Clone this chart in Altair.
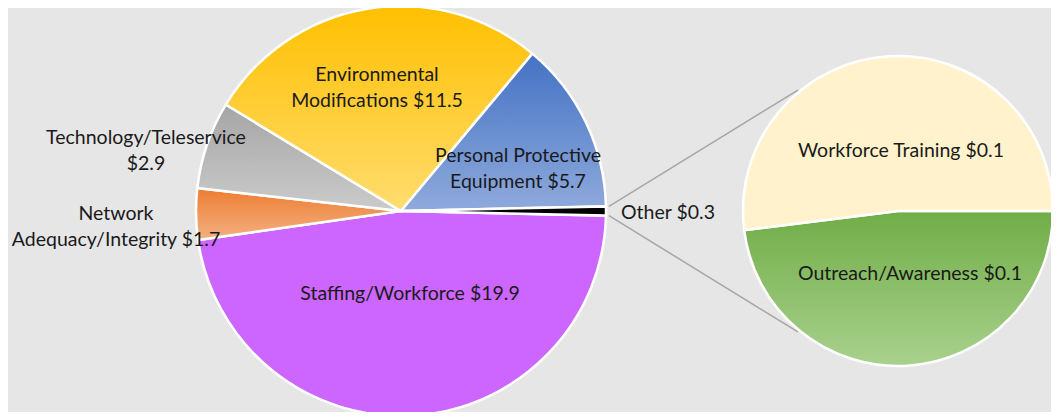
import math
import altair as alt
import pandas as pd

# ---- data ----
main_cats = ["Staffing/Workforce", "Network Adequacy/Integrity", "Technology/Teleservice",
             "Environmental Modifications", "Personal Protective Equipment", "Other"]
main_vals = [19.9, 1.7, 2.9, 11.5, 5.7, 0.3]
other_cats = ["Outreach/Awareness", "Workforce Training"]
other_vals = [0.134, 0.145]

# ---- styling / layout ----
wrapped = {
    "Network Adequacy/Integrity": "Network\nAdequacy/Integrity",
    "Environmental Modifications": "Environmental\nModifications",
    "Personal Protective Equipment": "Personal Protective\nEquipment",
}
sep = {"Technology/Teleservice": "\n"}


def grad(c1, c2):
    return alt.LinearGradient(
        gradient="linear",
        stops=[alt.GradientStop(color=c1, offset=0), alt.GradientStop(color=c2, offset=1)],
        x1=0, x2=0, y1=0, y2=1,
    )


fills = {
    "Staffing/Workforce": "#CC66FF",
    "Network Adequacy/Integrity": grad("#ED7D31", "#F4B183"),
    "Technology/Teleservice": grad("#A5A5A5", "#CBCBCB"),
    "Environmental Modifications": grad("#FFC000", "#FFDC6E"),
    "Personal Protective Equipment": grad("#4472C4", "#8FAADC"),
    "Other": "#000000",
    "Outreach/Awareness": grad("#70AD47", "#A9D18E"),
    "Workforce Training": "#FFF2CC",
}

MAIN_C = (393, 203)
MAIN_R = 205
SEC_C = (890, 203)
SEC_R = 155

label_pos = {
    "Staffing/Workforce": (402, 286, "center"),
    "Network Adequacy/Integrity": (108, 206, "center"),
    "Technology/Teleservice": (138, 129.5, "center"),
    "Environmental Modifications": (369, 67, "center"),
    "Personal Protective Equipment": (510, 147.5, "center"),
    "Other": (613, 205, "left"),
    "Outreach/Awareness": (902, 266, "center"),
    "Workforce Training": (893, 143, "center"),
}

FONT = "Lato"
FSIZE = 19.5
TXT = "#1a1a1a"


def make_df(cats, vals):
    return pd.DataFrame({
        "cat": cats,
        "value": vals,
        "order": list(range(len(cats))),
        "label": [wrapped.get(c, c) + sep.get(c, " ") + f"${v:.1f}" for c, v in zip(cats, vals)],
    })


def pie(cats, vals, center, r, start):
    df = make_df(cats, vals)
    total = float(sum(vals))
    base = alt.Chart(df).transform_stack(
        stack="value", groupby=[], as_=["v0", "v1"],
        sort=[alt.SortField("order", order="ascending")],
    )
    tscale = alt.Scale(domain=[0, total], range=[start, start + 2 * math.pi])
    arcs, texts = [], []
    for c in cats:
        sub = base.transform_filter(alt.datum.cat == c)
        arcs.append(
            sub.mark_arc(radius=r, fill=fills[c], stroke="white", strokeWidth=2.5).encode(
                theta=alt.Theta("v0:Q", scale=tscale),
                theta2="v1:Q",
                x=alt.value(center[0]),
                y=alt.value(center[1]),
            )
        )
        lx, ly, al = label_pos[c]
        texts.append(
            sub.mark_text(align=al, baseline="middle", lineBreak="\n", font=FONT,
                          fontSize=FSIZE, lineHeight=26, color=TXT).encode(
                text="label:N", x=alt.value(lx), y=alt.value(ly))
        )
    return alt.layer(*arcs), texts


total_main = sum(main_vals)
main_start = math.pi / 2 + math.pi * main_vals[-1] / total_main
main_layer, main_texts = pie(main_cats, main_vals, MAIN_C, MAIN_R, main_start)
sec_layer, sec_texts = pie(other_cats, other_vals, SEC_C, SEC_R, math.pi / 2)

# connector lines from the "Other" wedge to the secondary pie
half = math.pi * main_vals[-1] / total_main
conn = []
for sgn, sec_ang in ((-1, math.radians(320.4)), (1, math.radians(219.6))):
    a = math.pi / 2 + sgn * half
    x1 = MAIN_C[0] + (MAIN_R + 3) * math.sin(a)
    y1 = MAIN_C[1] - (MAIN_R + 3) * math.cos(a)
    x2 = SEC_C[0] + (SEC_R + 2) * math.sin(sec_ang)
    y2 = SEC_C[1] - (SEC_R + 2) * math.cos(sec_ang)
    conn.append(
        alt.Chart(pd.DataFrame({"k": [0]})).mark_rule(color="#A6A6A6", strokeWidth=1.5).encode(
            x=alt.value(x1), y=alt.value(y1), x2=alt.value(x2), y2=alt.value(y2))
    )

chart = alt.layer(main_layer, sec_layer, *conn, *main_texts, *sec_texts).resolve_scale(
    theta="independent"
).properties(
    width=1043, height=404, autosize="none", padding=0, background="#E6E6E6"
).configure_view(stroke=None)

chart.save("out.html", embed_options={"renderer": "svg", "actions": False})
